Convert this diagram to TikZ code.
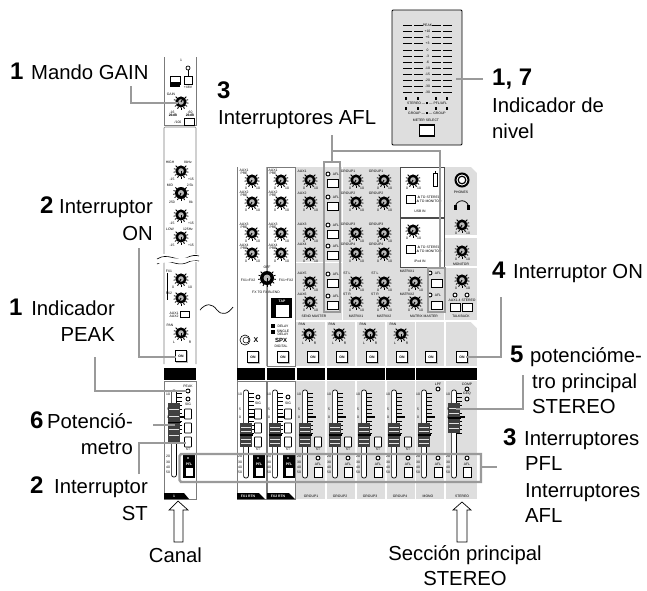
\documentclass[tikz,border=0pt]{standalone}
\usepackage{fontspec}
\setmainfont{Liberation Sans}
\definecolor{lead}{HTML}{9A9A9A}
\definecolor{panel}{HTML}{DEDEDE}
\newcount\tcnt
\newcommand{\tl}[3]{\global\advance\tcnt by 1 \node[tiny] (t\the\tcnt) at (#1,#2) {#3};}
\newcommand{\kn}[4][5.6]{%
  \begin{scope}[shift={(#2,#3)}]
    \foreach \a in {-135,-108,...,135} \draw[line width=.8pt] (90+\a:#1) -- (90+\a:#1+1.9);
    \fill[black] (0,0) circle (#1);
    \fill[gray!55] (0,0) circle (#1*.5);
    \draw[line width=1pt] (0,0) -- (#4:#1*.7);
  \end{scope}}
\newcommand{\btn}[3][11]{\draw[line width=1pt,fill=white] (#2-#1/2,#3-4) rectangle (#2+#1/2,#3+4);}
\newcommand{\vbtn}[2]{\draw[line width=.8pt,fill=white,rounded corners=.6pt] (#1-3.5,#2-5) rectangle (#1+3.5,#2+5);}
\newcommand{\onb}[2]{\draw[line width=.8pt,fill=white] (#1-5.5,#2-5.5) rectangle (#1+5.5,#2+5.5);
  \fill[lead!70] (#1+5.9,#2-5) rectangle (#1+6.8,#2+6.8); \fill[lead!70] (#1-5,#2+5.9) rectangle (#1+6.8,#2+6.8);
  \tl{#1}{#2}{\bfseries ON}}
\newcommand{\led}[2]{\draw[line width=.9pt,fill=white] (#1,#2) circle (2);}
\newcommand{\fad}[5]{% x, cap top, cap bottom, track top, track bottom
  \draw[line width=.7pt,fill=white,rounded corners=2pt] (#1-2.4,#4) rectangle (#1+2.4,#5);
  \foreach \yy in {393,397,...,435} \draw[line width=.6pt] (#1+3,\yy) -- (#1+8,\yy);
  \draw[line width=1.2pt] (#1+3,417) -- (#1+11,417);
  \fill[black!75] (#1-6,#2) rectangle (#1+6,#3);
  \foreach \yy in {1,2,3,4,5} \draw[lead!30,line width=1pt] (#1-5,{#2+(#3-(#2))*\yy/6}) -- (#1+5,{#2+(#3-(#2))*\yy/6});
  \draw[black,line width=1.6pt] (#1-6.5,{(#2+#3)/2}) -- (#1+6.5,{(#2+#3)/2});
  \tl{#1-6}{394}{10}\tl{#1-6}{409}{5}\tl{#1-6}{417}{0}
  \tl{#1-6}{456}{20}\tl{#1-6}{462}{30}\tl{#1-6}{467}{40}\tl{#1-6}{472}{50}}
\newcommand{\panelcol}[2]{\fill[panel] (#1,381) rectangle (#2,499); \fill[panel] (#1,322) rectangle (#2,366);}
\tikzset{
  x=1pt,y=-1pt,
  tiny/.style={font=\fontsize{3.4}{4}\selectfont,inner sep=0pt},
  big/.style={font=\fontsize{20.3}{24}\selectfont,inner sep=0pt,anchor=base west},
  bigr/.style={font=\fontsize{20.3}{24}\selectfont,inner sep=0pt,anchor=base east},
  bigc/.style={font=\fontsize{20.3}{24}\selectfont,inner sep=0pt,anchor=base},
  num/.style={font=\fontsize{24}{26}\bfseries\selectfont,inner sep=0pt,anchor=base west},
  leadline/.style={draw=lead,line width=2.4pt},
  hollow/.style={draw=black,line width=.7pt,fill=white},
}
\begin{document}
\begin{tikzpicture}
\useasboundingbox (0,0) rectangle (647,590);
\fill[white] (0,0) rectangle (647,590);

% --- channel strip
\draw[line width=.6pt,lead!80!black] (164,57) -- (164,125) -- (196,125) -- (196,57);
\draw[line width=.6pt,lead!80!black,rounded corners=1pt] (164,364) -- (164,127) -- (196,127) -- (196,364);
\fill[white] (157,254) rectangle (199,262);
\draw[line width=.6pt] (157,259) .. controls (168,252) and (176,262) .. (186,258) .. controls (192,255) and (196,255) .. (199,256);
\draw[line width=.6pt] (157,264) .. controls (168,257) and (176,267) .. (186,263) .. controls (192,260) and (196,260) .. (199,261);
\fill[white] (157.3,259.8) -- (199,256.8) -- (199,260.2) -- (157.3,263.2) -- cycle;
\fill[black] (164,368) rectangle (196,380);
\draw[line width=.6pt,lead!80!black] (164,381) -- (164,499) -- (196,499) -- (196,381) -- cycle;
\fill[black] (164,493) -- (184,493) -- (189,499) -- (164,499) -- cycle;
\node[tiny,white] (chn) at (174,496) {\bfseries 1};
\tl{181}{60}{1}
\draw[line width=.7pt] (188,68) circle (2);
\draw[line width=.7pt] (188,70) -- (188,76);
\draw[line width=.8pt,fill=white] (184,76) rectangle (192,84);
\tl{188}{87}{+48V}
\draw[line width=1pt,fill=white] (170,76) rectangle (180,84);
\fill[black] (170,82) rectangle (180,87);
\tl{171}{94}{GAIN}
\kn{181}{102}{300}
\tl{172}{112}{-16}\tl{173}{115.5}{\bfseries 26dB}\tl{190}{112}{-60}\tl{190}{115.5}{\bfseries 26dB}
\tl{178}{122}{/100}
\draw[line width=1pt,fill=white] (184,118) rectangle (194,125);
\tl{170}{162}{HIGH}\tl{188}{162}{8kHz}
\kn{181}{171}{90}
\tl{172}{179.5}{-15}\tl{191}{179.5}{+15}
\tl{170}{185}{MID}\tl{190}{185}{2.5k}
\kn[6]{181}{193}{115}
\tl{172}{202}{250}\tl{191}{202}{8k}
\kn{181}{215}{90}
\tl{172}{223}{-15}\tl{191}{223}{+15}
\tl{170}{229}{LOW}\tl{188}{229}{125Hz}
\kn{181}{237}{90}
\tl{172}{245}{-15}\tl{191}{245}{+15}
\tl{169}{271}{FX1}
\draw[line width=.7pt] (167,273) -- (167,300);
\kn{181}{279}{120}
\tl{173}{287}{0}\tl{190}{287}{10}
\tl{169}{293}{FX2}
\kn{181}{298}{120}
\tl{174}{313}{AUX1}\tl{174}{316.5}{AUX2}
\draw[line width=.9pt,fill=white] (180,311) rectangle (189,317);
\tl{170}{325}{PAN}
\kn{181}{333}{90}
\tl{174}{342}{L}\tl{190}{342}{R}
\onb{181}{356}
\tl{188}{386}{PEAK}
\led{188}{391}
\led{188}{399}
\tl{188}{404}{SIG}
\fad{174}{403}{442}{390}{477}
\vbtn{188}{414}\vbtn{188}{428}\vbtn{188}{442}
\tl{188}{449}{ST}
\fill[black] (183,455) rectangle (195,478);
\fill[white] (188,458) circle (.9);
\node[tiny,white] (pflc) at (189,464) {\bfseries PFL};
\draw[fill=white,line width=.5pt] (185,467) rectangle (193,476);

% --- main panel backgrounds
\fill[panel] (296,167) rectangle (444,320);
\fill[panel] (445,167) rectangle (477,235);
\fill[panel] (445,238) rectangle (477,266);
\fill[panel] (445,268) rectangle (477,320);
\fill[white] (471,167) -- (477,167) -- (477,173) -- cycle;
\panelcol{296}{325}\panelcol{327}{355}\panelcol{357}{385}\panelcol{387}{415}\panelcol{416}{444}\panelcol{446}{477}
\fill[white] (471,322) -- (477,322) -- (477,328) -- cycle;
\draw[white,line width=1pt] (342,167) -- (342,320);
\draw[white,line width=1pt] (296,262) -- (342,262);
\draw[line width=.4pt,black!70,fill=white] (400,167) rectangle (444,217);
\draw[line width=.4pt,black!70,fill=white] (400,218) rectangle (444,267);
\draw[line width=.5pt,lead!80!black] (237,167) -- (237,499) -- (266,499) -- (266,381) (266,366) -- (266,167) -- cycle;
\draw[line width=.5pt,lead!80!black] (267,167) -- (267,366) -- (295,366) -- (295,167) -- cycle;
\draw[line width=.5pt,lead!80!black] (237,381) -- (266,381) (267,381) -- (295,381) -- (295,499) -- (267,499) -- cycle;

% knobs and labels of the upper panel
\foreach \xx in {252,281}{
  \tl{\xx-8}{170}{AUX1}\tl{\xx-8}{173.5}{PRE}
  \tl{\xx-8}{192}{AUX2}\tl{\xx-8}{195.5}{PRE}
  \tl{\xx-8}{224}{AUX3}\tl{\xx-8}{227.5}{PRE}
  \tl{\xx-8}{245}{AUX4}\tl{\xx-8}{248.5}{PRE}
  \foreach \yy in {180,202,233,253}{\kn{\xx}{\yy}{120}\tl{\xx-6}{\yy+8}{0}\tl{\xx+6}{\yy+8}{10}}
}
\foreach \xx/\lab in {310/AUX,356/GROUP,384/GROUP}{
  \foreach \yy/\nn in {180/1,202/2,233/3,253/4}{
    \tl{\xx-8}{\yy-8.5}{\lab\nn}
    \kn{\xx}{\yy}{120}\tl{\xx-6}{\yy+8}{0}\tl{\xx+6}{\yy+8}{10}}
}
\tl{302}{273}{AUX5}\tl{302}{294}{AUX6}
\tl{347}{273}{ST L}\tl{347}{294}{ST R}
\tl{375}{273}{ST L}\tl{375}{294}{ST R}
\foreach \xx in {310,356,384,415}{
  \foreach \yy in {282,302}{\kn{\xx}{\yy}{120}\tl{\xx-6}{\yy+8}{0}\tl{\xx+6}{\yy+8}{10}}}
\tl{407}{271}{MATRIX1}\tl{407}{294}{MATRIX2}
\tl{314}{316}{SEND MASTER}\tl{356}{316}{MATRIX1}\tl{384}{316}{MATRIX2}\tl{424}{316}{MATRIX MASTER}
% AFL
\foreach \yy in {183,206,234,255,283,305}{\btn{333}{\yy}\led{328}{\yy-9}\tl{336}{\yy-9}{AFL}}
\foreach \yy in {283,305}{\btn{437}{\yy}\led{430}{\yy-10}\tl{438}{\yy-10}{AFL}}
% USB / iPod
\kn{413}{180}{120}\tl{407}{188}{0}\tl{419}{188}{10}
\draw[line width=.5pt] (433,173) rectangle (437,186);\draw[line width=.5pt] (435,171) -- (435,173);
\btn[9]{411}{199}\tl{429}{197}{\textbf{A} TO STEREO}\tl{429}{201}{\textbf{A} TO MONITOR}
\tl{420}{211}{USB IN}
\kn{413}{230}{120}\tl{407}{238}{0}\tl{419}{238}{10}
\btn[9]{411}{249}\tl{429}{247}{\textbf{A} TO STEREO}\tl{429}{251}{\textbf{A} TO MONITOR}
\tl{420}{261}{iPod IN}
% right column
\draw[line width=2pt,fill=white] (462,180) circle (6.5);
\draw[line width=1.2pt,fill=white] (462,180) circle (3.8);
\tl{461}{192}{PHONES}
\draw[line width=.8pt] (455,209) .. controls (455,198) and (469,198) .. (469,209);
\fill (454,205) rectangle (457,210);\fill (467,205) rectangle (470,210);
\kn{462}{225}{120}\tl{456}{233}{0}\tl{468}{233}{10}
\kn{462}{251}{120}\tl{456}{259}{0}\tl{468}{259}{10}\tl{461}{264}{MONITOR}
\kn{462}{280}{120}\tl{456}{288}{0}\tl{468}{288}{10}
\led{455}{295}\led{467}{295}
\tl{454.5}{300}{AUX1-4}\tl{468.5}{300}{STEREO}
\btn[10]{455}{307}\btn[10]{467}{307}
\tl{461}{316}{TALKBACK}
% FX blend + SPX
\tl{267}{267}{OFF}
\kn[7]{267}{278}{90}
\tl{248}{280}{FX1=FX2}\tl{286}{280}{FX1+FX2}
\tl{266}{292}{FX TO FX BLEND}
\fill[black] (271,298) rectangle (292,318);
\node[tiny,white] (tap) at (282,301) {\bfseries TAP};
\draw[fill=white] (275,304) rectangle (289,317);
\fill (271,324) rectangle (275,328);\tl{283}{326}{DELAY}
\fill (271,330) rectangle (275,334);\tl{283}{331}{SINGLE}\tl{283}{334.5}{DELAY}
\node[inner sep=0pt,font=\fontsize{7}{8}\bfseries\selectfont] (spxa) at (256,340) {X};
\draw[line width=.6pt] (245,340) circle (5);\draw[line width=.5pt] (246,340) circle (3);
\node[inner sep=0pt,font=\fontsize{6}{7}\bfseries\selectfont] (spxb) at (281,340) {SPX};
\tl{281}{346}{DIGITAL}
\tl{302}{324}{PAN}\tl{332}{324}{PAN}\tl{363}{324}{PAN}\tl{393}{324}{PAN}
\foreach \xx in {309,339,370,401}{\kn{\xx}{334}{90}\tl{\xx-6}{343}{L}\tl{\xx+6}{343}{R}}
\onb{253}{357}\onb{283}{357}\onb{313}{357}\onb{342}{357}\onb{372}{357}\onb{402}{357}\onb{431}{357}\onb{462}{357}

% black band
\fill[black] (237,368) rectangle (265,380);
\fill[black] (267,368) rectangle (295,380);
\fill[black] (297,368) rectangle (325,380);
\fill[black] (327,368) rectangle (385,380);
\fill[black] (386,368) rectangle (415,380);
\fill[black] (416,368) rectangle (477,380);

% lower faders
\fad{246}{423}{447}{390}{478}\fad{275}{423}{447}{390}{478}
\fad{305}{423}{447}{390}{478}\fad{335}{423}{447}{390}{478}\fad{364}{423}{447}{390}{478}\fad{394}{423}{447}{390}{478}\fad{424}{423}{447}{390}{478}
\fad{454}{403}{433}{390}{478}
\foreach \xx in {258,288}{
  \led{\xx}{397}\tl{\xx}{403}{SIG}
  \vbtn{\xx}{414}\vbtn{\xx}{428}\vbtn{\xx}{442}\tl{\xx}{449}{ST}
  \fill[black] (\xx-5,455) rectangle (\xx+7,478);
  \fill[white] (\xx,458) circle (.9);
  \node[tiny,white] at (\xx+1,464) {\bfseries PFL};
  \draw[fill=white,line width=.5pt] (\xx-3,467) rectangle (\xx+5,476);
}
\foreach \xx in {318,348,378,408}{\vbtn{\xx}{442}\tl{\xx}{449}{ST}}
\foreach \xx in {318,348,378,408,438,467}{\led{\xx}{458}\tl{\xx}{464}{AFL}\draw[line width=.8pt,fill=white] (\xx-4,467) rectangle (\xx+4,477);}
\tl{438}{384}{LPF}\led{438}{389}
\tl{467}{384}{COMP}\led{467}{389}\tl{467}{394}{GEQ}\led{467}{399}
\foreach \xx/\ww in {320/GROUP1,349/GROUP2,379/GROUP3,409/GROUP4,437/MONO,471/STEREO}{\tl{\xx-9}{496}{\ww}}
\fill (237,493) -- (259,493) -- (265,499) -- (237,499) -- cycle;
\fill (267,493) -- (289,493) -- (295,499) -- (267,499) -- cycle;
\node[tiny,white] (fx1r) at (248,496) {\bfseries FX1 RTN};
\node[tiny,white] (fx2r) at (278,496) {\bfseries FX2 RTN};

% --- meter panel
\draw[line width=.8pt,fill=panel,rounded corners=1pt] (392,10) rectangle (462,145);
\foreach \yy/\ll in {25/PEAK,31/+10,37/+6,43/+3,50/0,56/-3,62/-6,68/-10,74/-15,80/-20,86/-30,92/-30}{
  \foreach \xa in {403,414,432,443} \draw[line width=1pt] (\xa,\yy) -- (\xa+8.5,\yy);
  \tl{427.5}{\yy}{\ll}
}
\foreach \xa in {406,418,436,447}{\fill (\xa-1.2,96.5) rectangle (\xa+1.2,99.5);\fill (\xa-1.2,106.5) rectangle (\xa+1.2,109.5);}
\tl{427}{103}{STEREO — \rule{2pt}{2pt} — PFL/AFL}
\tl{427}{113}{GROUP — \rule{2pt}{2pt} — GROUP}
\tl{426}{120}{METER SELECT}
\draw[line width=1.6pt,fill=white] (419.5,125) rectangle (434.5,136);

% --- text
\node[num] (n1) at (10,79) {1};\node[big] (t1) at (31,79) {Mando GAIN};
\node[num] (n2) at (40,213) {2};\node[bigr] (t2) at (153,213) {Interruptor};\node[bigr] (t2b) at (153,240) {ON};
\node[num] (n3) at (9,315) {1};\node[bigr] (t3) at (115,315) {Indicador};\node[bigr] (t3b) at (115,341) {PEAK};
\node[num] (n4) at (30,428) {6};\node[bigr] (t4) at (133,428) {Potenció-};\node[bigr] (t4b) at (133,454) {metro};
\node[num] (n5) at (30,493) {2};\node[bigr] (t5) at (148,493) {Interruptor};\node[bigr] (t5b) at (148,520) {ST};
\node[bigc] (t6) at (175.5,562) {Canal};
\node[num] (n7) at (217,98) {3};\node[big] (t7) at (218,124) {Interruptores AFL};
\node[num] (n8) at (492,85) {1, 7};\node[big] (t8) at (492,112) {Indicador de};\node[big] (t8b) at (492,138) {nivel};
\node[num] (n9) at (492,278) {4};\node[big] (t9) at (513,278) {Interruptor ON};
\node[num] (n10) at (510,362) {5};\node[big] (t10) at (530,362) {potencióme-};\node[big] (t10b) at (532,388) {tro principal};\node[big] (t10c) at (532,413) {STEREO};
\node[num] (n11) at (503,445) {3};\node[big] (t11) at (524,445) {Interruptores};\node[big] (t11b) at (525,470) {PFL};\node[big] (t11c) at (525,497) {Interruptores};\node[big] (t11d) at (525,522) {AFL};
\node[bigc] (t12) at (465,560) {Sección principal};\node[bigc] (t12b) at (465,585) {STEREO};

% --- leaders
\coordinate (a1) at (131,86);\coordinate (a1e) at (178,103);
\coordinate (a2) at (139,248);\coordinate (a2e) at (176,357);
\coordinate (a3) at (95,357);\coordinate (a3e) at (187,391);
\coordinate (a4) at (153,425);\coordinate (a4e) at (175,425);
\coordinate (a5) at (139,474);\coordinate (a5e) at (186,443);
\coordinate (a6) at (456,79);\coordinate (a6e) at (483,79);
\coordinate (a7) at (501,297);\coordinate (a7e) at (466,357);
\coordinate (a8) at (523,375);\coordinate (a8e) at (456,409);
\coordinate (a9) at (481,467);\coordinate (a9e) at (497,467);
\coordinate (a10) at (332,135);\coordinate (a10e) at (332,151);\coordinate (a10f) at (440,151);
\draw[leadline] (a1) |- (a1e);
\draw[leadline] (a2) |- (a2e);
\draw[leadline] (a3) |- (a3e);
\draw[leadline] (a4) -- (a4e);
\draw[leadline] (a5) |- (a5e);
\draw[leadline] (a6) -- (a6e);
\draw[leadline] (a7) |- (a7e);
\draw[leadline] (a8) |- (a8e);
\draw[leadline] (a9) -- (a9e);
\draw[leadline] (a10) -- (a10e) -- (a10f) -- (440,268);
\draw[leadline] (a10e) -- (332,162);
\draw[leadline] (324,162) rectangle (340,312);
\draw[leadline] (428,268) rectangle (445,312);
\draw[leadline] (181,454) -- (481,454) -- (481,482) -- (181,482) -- (179.5,480) -- (179.5,456) -- cycle;

% --- tilde + arrows
\draw[line width=.7pt] (200,310) .. controls (206,303) and (212,303) .. (217,310) .. controls (222,316) and (228,314) .. (233,307);
\draw[hollow] (178,501) -- (188,510) -- (183,510) -- (183,542) -- (174,542) -- (174,510) -- (169,510) -- cycle;
\draw[hollow] (462,502) -- (471,510) -- (467,510) -- (467,542) -- (457,542) -- (457,510) -- (453,510) -- cycle;
\end{tikzpicture}
\end{document}
